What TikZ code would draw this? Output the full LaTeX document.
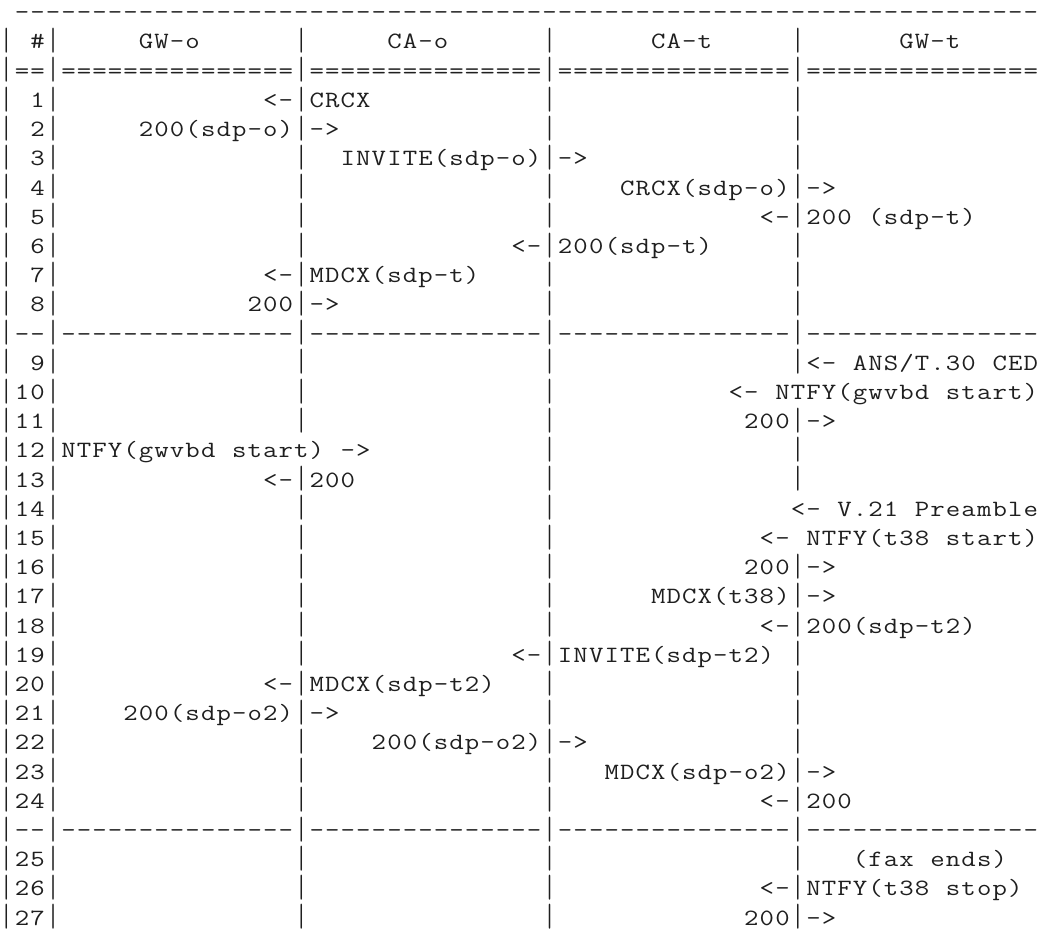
\documentclass[tikz,border=0pt]{standalone}
\usepackage{graphicx}
\usetikzlibrary{positioning}
\newcommand\dashrun{---------------}
\newcommand\eqrun{===============}
\newcommand\asciibar{\raisebox{-1.2pt}{\scalebox{1}[1.38]{|}}}
\newcommand\asciifont{\ttfamily\fontsize{17.5pt}{21pt}\selectfont}
\ExplSyntaxOn
\dim_new:N \g_cellw_dim
\dim_gset:Nn \g_cellw_dim { 11.64pt }
\tl_new:N \l_asciiline_tl
\cs_new:Npn \cellgap #1 { \prg_replicate:nn {#1} {*} }
\NewDocumentCommand \gridtext { m }
  {
    \tl_set:Nx \l_asciiline_tl { #1 }
    \tl_map_inline:Nn \l_asciiline_tl
      {
        \str_if_eq:nnTF { ##1 } { * }
          { \hbox_to_wd:nn { \g_cellw_dim } { \hfil } }
          {
            \str_if_eq:nnTF { ##1 } { @ }
              { \hbox_to_wd:nn { \g_cellw_dim } { \hss \scalebox{1.2}[1]{\#} \hss } }
              {
                \str_if_eq:nnTF { ##1 } { | }
                  { \hbox_to_wd:nn { \g_cellw_dim } { \hss \asciibar \hss } }
                  { \hbox_to_wd:nn { \g_cellw_dim } { \hss \scalebox{1.2}[1]{##1} \hss } }
              }
          }
      }
  }
\ExplSyntaxOff
\begin{document}
\begin{tikzpicture}[x=0.75pt,y=-0.75pt,
  asciiline/.style={anchor=base west, inner sep=0pt, outer sep=0pt, font=\asciifont, text=black!88}]
\useasboundingbox (0,0) rectangle (1037,931);
\fill[white] (0,0) rectangle (1037,931);
\node[asciiline] (l0)  at (-1.3,{19.8+29.2*0})  {\gridtext{\cellgap{1}\dashrun\dashrun\dashrun\dashrun------}};
\node[asciiline] (l1)  at (-1.3,{19.8+29.2*1})  {\gridtext{|\cellgap{1}@|\cellgap{5}GW-o\cellgap{6}|\cellgap{5}CA-o\cellgap{6}|\cellgap{6}CA-t\cellgap{5}|\cellgap{6}GW-t}};
\node[asciiline] (l2)  at (-1.3,{19.8+29.2*2})  {\gridtext{|==|\eqrun|\eqrun|\eqrun|\eqrun}};
\node[asciiline] (l3)  at (-1.3,{19.8+29.2*3})  {\gridtext{|\cellgap{1}1|\cellgap{13}<-|CRCX\cellgap{11}|\cellgap{15}|}};
\node[asciiline] (l4)  at (-1.3,{19.8+29.2*4})  {\gridtext{|\cellgap{1}2|\cellgap{5}200(sdp-o)|->\cellgap{13}|\cellgap{15}|}};
\node[asciiline] (l5)  at (-1.3,{19.8+29.2*5})  {\gridtext{|\cellgap{1}3|\cellgap{15}|\cellgap{2}INVITE(sdp-o)|->\cellgap{13}|}};
\node[asciiline] (l6)  at (-1.3,{19.8+29.2*6})  {\gridtext{|\cellgap{1}4|\cellgap{15}|\cellgap{15}|\cellgap{4}CRCX(sdp-o)|->}};
\node[asciiline] (l7)  at (-1.3,{19.8+29.2*7})  {\gridtext{|\cellgap{1}5|\cellgap{15}|\cellgap{15}|\cellgap{13}<-|200*(sdp-t)}};
\node[asciiline] (l8)  at (-1.3,{19.8+29.2*8})  {\gridtext{|\cellgap{1}6|\cellgap{15}|\cellgap{13}<-|200(sdp-t)\cellgap{5}|}};
\node[asciiline] (l9)  at (-1.3,{19.8+29.2*9})  {\gridtext{|\cellgap{1}7|\cellgap{13}<-|MDCX(sdp-t)\cellgap{4}|\cellgap{15}|}};
\node[asciiline] (l10) at (-1.3,{19.8+29.2*10}) {\gridtext{|\cellgap{1}8|\cellgap{12}200|->\cellgap{13}|\cellgap{15}|}};
\node[asciiline] (l11) at (-1.3,{19.8+29.2*11}) {\gridtext{|--|\dashrun|\dashrun|\dashrun|\dashrun}};
\node[asciiline] (l12) at (-1.3,{19.8+29.2*12}) {\gridtext{|\cellgap{1}9|\cellgap{15}|\cellgap{15}|\cellgap{15}|<-*ANS/T.30*CED}};
\node[asciiline] (l13) at (-1.3,{19.8+29.2*13}) {\gridtext{|10|\cellgap{15}|\cellgap{15}|\cellgap{11}<-*NTFY(gwvbd*start)}};
\node[asciiline] (l14) at (-1.3,{19.8+29.2*14}) {\gridtext{|11|\cellgap{15}|\cellgap{15}|\cellgap{12}200|->}};
\node[asciiline] (l15) at (-1.3,{19.8+29.2*15}) {\gridtext{|12|NTFY(gwvbd*start)*->\cellgap{11}|\cellgap{15}|}};
\node[asciiline] (l16) at (-1.3,{19.8+29.2*16}) {\gridtext{|13|\cellgap{13}<-|200\cellgap{12}|\cellgap{15}|}};
\node[asciiline] (l17) at (-1.3,{19.8+29.2*17}) {\gridtext{|14|\cellgap{15}|\cellgap{15}|\cellgap{15}<-*V.21*Preamble}};
\node[asciiline] (l18) at (-1.3,{19.8+29.2*18}) {\gridtext{|15|\cellgap{15}|\cellgap{15}|\cellgap{13}<-*NTFY(t38*start)}};
\node[asciiline] (l19) at (-1.3,{19.8+29.2*19}) {\gridtext{|16|\cellgap{15}|\cellgap{15}|\cellgap{12}200|->}};
\node[asciiline] (l20) at (-1.3,{19.8+29.2*20}) {\gridtext{|17|\cellgap{15}|\cellgap{15}|\cellgap{6}MDCX(t38)|->}};
\node[asciiline] (l21) at (-1.3,{19.8+29.2*21}) {\gridtext{|18|\cellgap{15}|\cellgap{15}|\cellgap{13}<-|200(sdp-t2)}};
\node[asciiline] (l22) at (-1.3,{19.8+29.2*22}) {\gridtext{|19|\cellgap{15}|\cellgap{13}<-|INVITE(sdp-t2)\cellgap{1}|}};
\node[asciiline] (l23) at (-1.3,{19.8+29.2*23}) {\gridtext{|20|\cellgap{13}<-|MDCX(sdp-t2)\cellgap{3}|\cellgap{15}|}};
\node[asciiline] (l24) at (-1.3,{19.8+29.2*24}) {\gridtext{|21|\cellgap{4}200(sdp-o2)|->\cellgap{13}|\cellgap{15}|}};
\node[asciiline] (l25) at (-1.3,{19.8+29.2*25}) {\gridtext{|22|\cellgap{15}|\cellgap{4}200(sdp-o2)|->\cellgap{13}|}};
\node[asciiline] (l26) at (-1.3,{19.8+29.2*26}) {\gridtext{|23|\cellgap{15}|\cellgap{15}|\cellgap{3}MDCX(sdp-o2)|->}};
\node[asciiline] (l27) at (-1.3,{19.8+29.2*27}) {\gridtext{|24|\cellgap{15}|\cellgap{15}|\cellgap{13}<-|200}};
\node[asciiline] (l28) at (-1.3,{19.8+29.2*28}) {\gridtext{|--|\dashrun|\dashrun|\dashrun|\dashrun}};
\node[asciiline] (l29) at (-1.3,{19.8+29.2*29}) {\gridtext{|25|\cellgap{15}|\cellgap{15}|\cellgap{15}|\cellgap{3}(fax*ends)}};
\node[asciiline] (l30) at (-1.3,{19.8+29.2*30}) {\gridtext{|26|\cellgap{15}|\cellgap{15}|\cellgap{13}<-|NTFY(t38*stop)}};
\node[asciiline] (l31) at (-1.3,{19.8+29.2*31}) {\gridtext{|27|\cellgap{15}|\cellgap{15}|\cellgap{12}200|->}};
\end{tikzpicture}
\end{document}
